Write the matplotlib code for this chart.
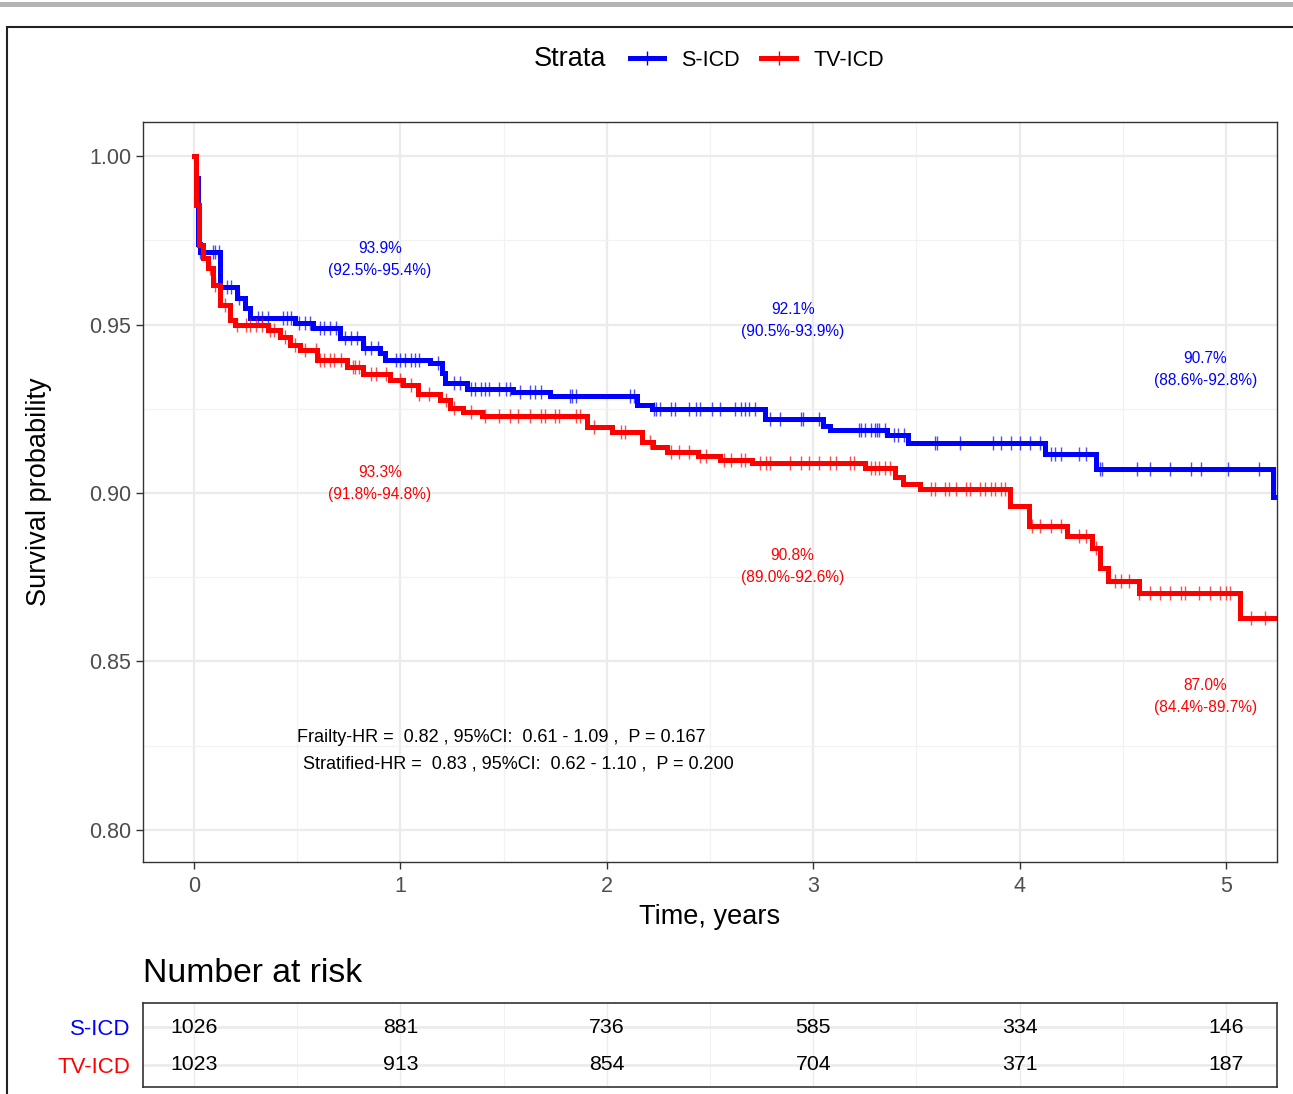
import numpy as np
import matplotlib
matplotlib.use("Agg")
import matplotlib.pyplot as plt
from matplotlib.lines import Line2D
from matplotlib.patches import Rectangle

plt.rcParams['font.family'] = ['Liberation Sans', 'DejaVu Sans']

# Kaplan-Meier steps (time in years, survival after the drop)
sicd_time = [0.0, 0.010, 0.019, 0.030, 0.126, 0.208, 0.247, 0.271, 0.489, 0.577,
             0.707, 0.819, 0.901, 0.925, 1.143, 1.202, 1.216, 1.323, 1.546, 1.725,
             2.146, 2.219, 2.766, 3.047, 3.081, 3.358, 3.459, 4.123, 4.370, 5.228, 5.235]
sicd_surv = [1.000, 0.9935, 0.974, 0.9715, 0.961, 0.958, 0.955, 0.952, 0.9505, 0.949,
             0.946, 0.943, 0.9415, 0.9395, 0.9385, 0.9355, 0.9326, 0.931, 0.930, 0.9288,
             0.9261, 0.9249, 0.922, 0.920, 0.9187, 0.9172, 0.9148, 0.9116, 0.9071, 0.8988, 0.8988]

tvicd_time = [0.0, 0.010, 0.024, 0.044, 0.068, 0.092, 0.126, 0.174, 0.199, 0.359,
              0.417, 0.465, 0.514, 0.596, 0.741, 0.819, 0.950, 1.013, 1.085, 1.192,
              1.240, 1.303, 1.395, 1.904, 2.025, 2.171, 2.224, 2.292, 2.442, 2.548,
              2.703, 3.251, 3.396, 3.435, 3.517, 3.953, 4.045, 4.230, 4.351, 4.390,
              4.428, 4.578, 5.068, 5.240]
tvicd_surv = [1.000, 0.9855, 0.9736, 0.9697, 0.9668, 0.9617, 0.9558, 0.9513, 0.9498, 0.9484,
              0.9463, 0.9439, 0.9424, 0.9395, 0.9374, 0.9353, 0.9335, 0.932, 0.9294, 0.9276,
              0.9252, 0.924, 0.9228, 0.9196, 0.918, 0.9151, 0.9137, 0.9122, 0.911, 0.9098,
              0.9089, 0.9074, 0.9047, 0.9027, 0.9012, 0.8961, 0.8902, 0.8872, 0.8837, 0.8777,
              0.8739, 0.8703, 0.863, 0.863]

# censoring marks (years)
sicd_cens = [0.03, 0.04, 0.09, 0.10, 0.12, 0.16, 0.18, 0.22, 0.31, 0.33, 0.36, 0.43, 0.45,
             0.47, 0.51, 0.54, 0.56, 0.61, 0.63, 0.66, 0.69, 0.73, 0.76, 0.79, 0.83, 0.86,
             0.89, 0.98, 1.00, 1.02, 1.05, 1.07, 1.09, 1.18, 1.26, 1.29, 1.34, 1.36, 1.39,
             1.41, 1.43, 1.48, 1.51, 1.53, 1.58, 1.63, 1.65, 1.68, 1.82, 1.83, 1.85, 2.11,
             2.13, 2.23, 2.24, 2.26, 2.31, 2.33, 2.40, 2.43, 2.45, 2.51, 2.55, 2.62, 2.65,
             2.67, 2.69, 2.72, 2.79, 2.84, 2.94, 2.95, 3.03, 3.22, 3.23, 3.25, 3.28, 3.30,
             3.31, 3.32, 3.35, 3.39, 3.41, 3.44, 3.59, 3.60, 3.71, 3.87, 3.91, 3.96, 4.00,
             4.05, 4.10, 4.15, 4.17, 4.20, 4.29, 4.32, 4.39, 4.40, 4.57, 4.63, 4.73, 4.83,
             4.88, 5.01, 5.16]
tvicd_cens = [0.08, 0.10, 0.15, 0.21, 0.25, 0.27, 0.30, 0.33, 0.37, 0.39, 0.44, 0.49, 0.54,
              0.59, 0.61, 0.63, 0.66, 0.68, 0.71, 0.77, 0.78, 0.80, 0.86, 0.88, 0.93, 1.00,
              1.05, 1.09, 1.14, 1.22, 1.26, 1.34, 1.41, 1.48, 1.53, 1.57, 1.63, 1.68, 1.70,
              1.75, 1.77, 1.85, 1.87, 1.94, 2.07, 2.09, 2.21, 2.31, 2.35, 2.40, 2.45, 2.48,
              2.57, 2.60, 2.65, 2.67, 2.74, 2.77, 2.79, 2.89, 2.94, 2.98, 3.03, 3.08, 3.11,
              3.18, 3.20, 3.28, 3.30, 3.32, 3.35, 3.37, 3.57, 3.59, 3.64, 3.66, 3.69, 3.74,
              3.76, 3.81, 3.83, 3.86, 3.88, 3.91, 3.93, 4.06, 4.10, 4.15, 4.20, 4.29, 4.32,
              4.37, 4.46, 4.49, 4.53, 4.58, 4.63, 4.68, 4.73, 4.78, 4.80, 4.87, 4.92, 4.97,
              5.00, 5.02, 5.12, 5.19]

groups = ['S-ICD', 'TV-ICD']
colors = ['#0000FF', '#FF0000']

# survival estimates at 1, 3, 5 years
est_times = [1, 3, 5]
sicd_est = ['93.9%\n(92.5%-95.4%)', '92.1%\n(90.5%-93.9%)', '90.7%\n(88.6%-92.8%)']
sicd_est_y = [0.9693, 0.9512, 0.9367]
tvicd_est = ['93.3%\n(91.8%-94.8%)', '90.8%\n(89.0%-92.6%)', '87.0%\n(84.4%-89.7%)']
tvicd_est_y = [0.9028, 0.8782, 0.8396]

hr_lines = ['Frailty-HR =  0.82 , 95%CI:  0.61 - 1.09 ,  P = 0.167',
            'Stratified-HR =  0.83 , 95%CI:  0.62 - 1.10 ,  P = 0.200']

risk_times = [0, 1, 2, 3, 4, 5]
sicd_risk = [1026, 881, 736, 585, 334, 146]
tvicd_risk = [1023, 913, 854, 704, 371, 187]

W, H = 1293, 1094
fig = plt.figure(figsize=(W / 100, H / 100), dpi=100)

# grey strip at top and outer frame
fig.patches.append(Rectangle((0, 1 - 7 / H), 1, 5 / H, transform=fig.transFigure,
                             facecolor='#b3b3b3', edgecolor='none'))
fig.patches.append(Rectangle((7 / W, -0.05), 1.2, 0.05 + 1 - 27 / H, transform=fig.transFigure,
                             facecolor='none', edgecolor='#222222', linewidth=1.5))

xlim = (-0.247, 5.247)
ax = fig.add_axes([143 / W, 1 - 862 / H, (1277 - 143) / W, (862 - 122) / H])
ax.set_xlim(*xlim)
ax.set_ylim(0.7905, 1.0101)
ax.set_xticks(range(6))
ax.set_xticks(np.arange(0.5, 5.5, 1), minor=True)
ax.set_yticks([0.80, 0.85, 0.90, 0.95, 1.00])
ax.set_yticks([0.825, 0.875, 0.925, 0.975], minor=True)
ax.set_yticklabels(['0.80', '0.85', '0.90', '0.95', '1.00'])
ax.grid(which='major', color='#ebebeb', linewidth=1.6)
ax.grid(which='minor', color='#f2f2f2', linewidth=0.9)
ax.set_axisbelow(True)
for s in ax.spines.values():
    s.set_color('#333333')
    s.set_linewidth(1.0)
ax.tick_params(axis='both', which='major', labelsize=15.5, labelcolor='#4d4d4d',
               color='#333333', length=5, width=1.0)
ax.tick_params(axis='x', which='major', pad=5)
ax.tick_params(which='minor', length=0)

series = [(sicd_time, sicd_surv, sicd_cens), (tvicd_time, tvicd_surv, tvicd_cens)]
for (t, s, c), col, name in zip(series, colors, groups):
    ax.step(t, s, where='post', color=col, linewidth=3.6, solid_joinstyle='miter')
    idx = np.searchsorted(t, c, side='right') - 1
    ax.plot(c, np.array(s)[idx], linestyle='none', marker='|', markersize=10,
            markeredgewidth=1.0, color=col, alpha=0.7)

for x, txt, y in zip(est_times, sicd_est, sicd_est_y):
    ax.text(x - 0.1, y, txt, color=colors[0], fontsize=11.2, ha='center', va='center',
            linespacing=1.6)
for x, txt, y in zip(est_times, tvicd_est, tvicd_est_y):
    ax.text(x - 0.1, y, txt, color=colors[1], fontsize=11.2, ha='center', va='center',
            linespacing=1.6)

ax.text(1.49, 0.8273, hr_lines[0], fontsize=13, ha='center', va='center')
ax.text(1.57, 0.8196, hr_lines[1], fontsize=13, ha='center', va='center')

ax.set_xlabel('Time, years', fontsize=19.5, labelpad=5)
ax.set_ylabel('Survival probability', fontsize=19.5, labelpad=27)

# legend
fig.text(534 / W, 1 - 59 / H, 'Strata', fontsize=19.5, va='center', ha='left')
handles = [Line2D([], [], color=c, linewidth=3.6, marker='|', markersize=10,
                  markeredgewidth=1.0) for c in colors]
fig.legend(handles, groups, ncol=2, frameon=False, fontsize=15.5, loc='center left',
           bbox_to_anchor=(621 / W, 1 - 60 / H), handlelength=1.6, handletextpad=0.8,
           columnspacing=1.0, borderaxespad=0)

# number at risk table
fig.text(143 / W, 1 - 973 / H, 'Number at risk', fontsize=24.3, va='center', ha='left')
tab = fig.add_axes([143 / W, 1 - 1087 / H, (1277 - 143) / W, 84 / H])
tab.set_xlim(*xlim)
tab.set_ylim(-0.587, 1.653)
tab.set_yticks([0, 1])
tab.set_yticklabels(['TV-ICD', 'S-ICD'])
for lab, col in zip(tab.get_yticklabels(), [colors[1], colors[0]]):
    lab.set_color(col)
tab.tick_params(axis='y', labelsize=16, length=0, pad=9)
tab.set_xticks(range(6))
tab.set_xticks(np.arange(0.5, 5.5, 1), minor=True)
tab.tick_params(axis='x', which='both', length=0, labelbottom=False)
tab.grid(which='major', axis='y', color='#ebebeb', linewidth=2.0)
tab.grid(which='major', axis='x', color='#ebebeb', linewidth=1.0)
tab.grid(which='minor', axis='x', color='#f2f2f2', linewidth=0.8)
tab.set_axisbelow(True)
for s in tab.spines.values():
    s.set_color('#333333')
    s.set_linewidth(1.2)
for x, a, b in zip(risk_times, sicd_risk, tvicd_risk):
    tab.text(x, 1, str(a), fontsize=15.3, ha='center', va='center')
    tab.text(x, 0, str(b), fontsize=15.3, ha='center', va='center')

fig.savefig('out.png', dpi=100)
